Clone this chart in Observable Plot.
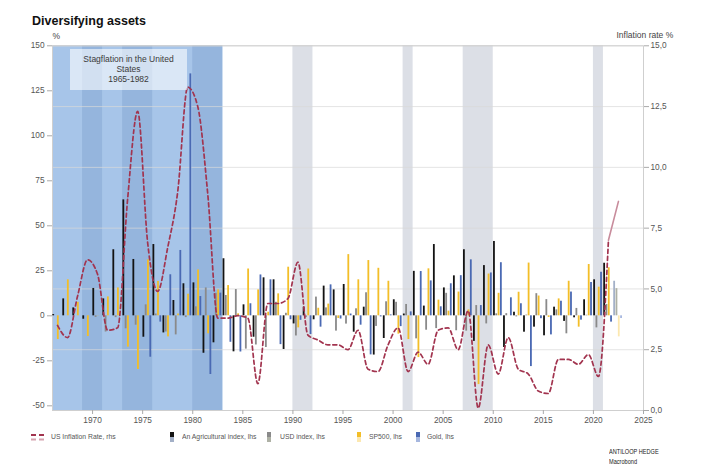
<!DOCTYPE html>
<html><head><meta charset="utf-8">
<script src="https://cdn.jsdelivr.net/npm/d3@7"></script>
<script src="https://cdn.jsdelivr.net/npm/@observablehq/plot@0.6"></script>
<style>
body{margin:0;background:#fff;font-family:"Liberation Sans",Arial,sans-serif;}
#wrap{position:relative;width:715px;height:467px;overflow:hidden;}
#title{height:28px;position:relative;}
#title span{position:absolute;left:32px;top:15px;font-size:12.5px;font-weight:bold;line-height:12px;color:#111;}
#chart svg{display:block;}
#note{position:absolute;left:70px;top:49px;width:117px;height:41px;background:rgba(255,255,255,0.58);
 text-align:center;font-size:8.5px;line-height:10px;color:#3a3a3a;padding-top:5px;box-sizing:border-box;}
.lg{position:absolute;top:432px;font-size:8px;line-height:10px;color:#555;white-space:nowrap;transform:scaleX(0.85);transform-origin:left center;}
.ic{position:absolute;top:432px;width:4px;height:10px;}
.ic i{display:block;width:4px;height:5px;}
.cap{position:absolute;left:609px;font-size:7px;line-height:9px;color:#222;white-space:nowrap;transform:scaleX(0.8);transform-origin:left center;}
</style></head>
<body>
<div id="wrap">
 <div id="title"><span>Diversifying assets</span></div>
 <div id="chart"></div>
 <div id="note">Stagflation in the United<br>States<br>1965-1982</div>
 <div id="legend"></div>
 <div class="cap" style="top:447px">ANTILOOP HEDGE</div>
 <div class="cap" style="top:457px">Macrobond</div>
</div>
<script>
// ---------- data ----------
const years = [1966,1967,1968,1969,1970,1971,1972,1973,1974,1975,1976,1977,1978,1979,1980,1981,1982,1983,1984,1985,1986,1987,1988,1989,1990,1991,1992,1993,1994,1995,1996,1997,1998,1999,2000,2001,2002,2003,2004,2005,2006,2007,2008,2009,2010,2011,2012,2013,2014,2015,2016,2017,2018,2019,2020,2021,2022];

// Agricultural index, % change (lhs)
const agri = [0.7,9.4,4.4,-1.9,15.2,9.4,36.7,64.4,31.3,-11.9,39.6,-9.5,8.5,17.8,18.3,-20.8,-15,31.7,-20,6.1,-11.9,21.1,20,-18.7,-4.5,4.8,-2.2,16.5,14.4,17.4,-9.1,4.8,-21.8,-12.6,8.9,1,24.7,5.4,39.6,15.5,22.2,36.7,-14.2,27.9,41.3,-17.6,2,-9.1,-6.3,-11.1,4.8,-3.1,-1.1,8.9,20,29.2,19.2];
// USD index, % change (lhs)
const usd = [null,null,null,null,-0.9,-9,-1,-7.2,-5.2,6.1,1,-9,-10.6,-1,5,15.5,12.5,11.3,14.6,-18.5,-16.2,-17.6,7.5,1.4,-11.2,-1,10.4,4.4,-8.5,-4.6,3.9,12.8,-5.9,7.8,7.5,6.3,-12.8,-8,-7.1,12.5,-8.3,-8.5,5.7,-4.5,1.1,1.2,-0.6,0.4,12.3,9,3.3,-10,4.1,0.3,-6.7,6.3,15.1];
// SP500, % change (lhs)
const sp500 = [-13.2,20,7.5,-11.5,0.1,10.5,15.5,-17.4,-29.8,31.1,19.1,-11.7,1,12,25.5,-10,14.4,16.8,1.1,26,14.4,2,12.2,27,-6.7,26,4.2,6.5,-1.5,34,20,30.7,26.4,19.2,-10.2,-13.2,-23.2,26.1,8.7,2.6,13.2,3.3,-38.2,23.2,12.5,0,13.1,29.3,11,-0.9,9.4,19.2,-6.3,28.5,15.9,26.7,-11.7];
// Gold, % change (lhs)
const gold = [null,null,null,null,null,null,null,null,null,-23,-3.5,22.8,36.3,134.4,10.7,-32.6,12.6,-14.7,-20.1,6.7,22.7,20,-16,-2.2,-2.5,-10.4,-6.3,17.2,-1.8,1,-5.2,-21.7,-0.6,0.5,-6,2.2,24.6,19.4,5,17.8,22.3,31.1,5.7,23.8,29.5,10,6.7,-28.2,-1.6,-10.6,8.1,13.2,-2.4,18.5,24.2,-3.5,-1.5];
// US inflation rate, % (rhs)
const inflation = [3.5,3.0,4.7,6.2,5.6,3.3,3.4,8.7,12.3,6.9,4.9,6.7,9.0,13.3,12.5,8.9,3.8,3.8,3.9,3.8,1.1,4.4,4.4,4.6,6.1,3.1,2.9,2.7,2.7,2.5,3.3,1.7,1.6,2.7,3.4,1.6,2.4,1.9,3.3,3.4,2.5,4.1,0.1,2.7,1.5,3.0,1.7,1.5,0.8,0.7,2.1,2.1,1.9,2.3,1.4,7.0,8.6];
const lastActualYear = 2021;

// shaded periods
const stagflation = [{start:1966, end:1983}];
const recessionsEarly = [{start:1969,end:1971},{start:1973,end:1976},{start:1980,end:1983}];
const recessionsLate = [{start:1990,end:1992},{start:2001,end:2002},{start:2007,end:2010},{start:2020,end:2021}];

// tick labels
const xTicks = [1970,1975,1980,1985,1990,1995,2000,2005,2010,2015,2020,2025];
const leftTicks = [-50,-25,0,25,50,75,100,125,150];
const rightTicks = [0,2.5,5,7.5,10,12.5,15];

// ---------- build ----------
const lo = -52.6, hi = 150;           // left-axis domain
const rMax = 15;                      // right-axis max
const toLeft = v => lo + v * (hi - lo) / rMax;
const toRight = u => (u - lo) * rMax / (hi - lo);

const series = [
  {name:"An Agricultural index, lhs", values:agri,  dark:"#131313", light:"#a3b0c7"},
  {name:"USD index, lhs",             values:usd,   dark:"#8a8a8a", light:"#aeb1a5"},
  {name:"SP500, lhs",                 values:sp500, dark:"#f3be28", light:"#fce8b0"},
  {name:"Gold, lhs",                  values:gold,  dark:"#4a69b3", light:"#a6b7df"}
];
const offsets = [0.12, 0.35, 0.58, 0.81], bw = 0.18;
const bars = [];
series.forEach((s, i) => years.forEach((yr, j) => {
  const v = s.values[j];
  if (v == null) return;
  bars.push({year: yr, i, value: v, fill: yr > lastActualYear ? s.light : s.dark});
}));
const infl = years.map((yr, j) => ({year: yr, v: inflation[j]}));

const fontFam = '"Liberation Sans", Arial, sans-serif';
const chart = Plot.plot({
  width: 715, height: 400,
  marginLeft: 52, marginRight: 72, marginTop: 17.3, marginBottom: 18,
  x: {domain: [1966, 2025]},
  y: {domain: [lo, hi]},
  color: {type: "identity"},
  style: {fontFamily: fontFam, fontSize: "8.3px", color: "#555", background: "transparent"},
  marks: [
    Plot.rect(stagflation, {x1: "start", x2: "end", fill: "#a7c5e9"}),
    Plot.rect(recessionsEarly, {x1: "start", x2: "end", fill: "#95b5dd"}),
    Plot.rect(recessionsLate, {x1: "start", x2: "end", fill: "#dcdfe6"}),
    Plot.ruleY(rightTicks.map(toLeft), {stroke: "#d9d9d9", strokeOpacity: 0.7}),
    Plot.frame({stroke: "#cfcfcf"}),
    Plot.rect(bars, {
      x1: d => d.year + offsets[d.i] - bw / 2,
      x2: d => d.year + offsets[d.i] + bw / 2,
      y1: 0, y2: "value", fill: "fill"
    }),
    Plot.line(infl.filter(d => d.year <= lastActualYear), {
      x: d => d.year + 0.5, y: d => toLeft(d.v), curve: "monotone-x",
      stroke: "#a2344f", strokeWidth: 1.7, strokeDasharray: "4,3"
    }),
    Plot.line(infl.filter(d => d.year >= lastActualYear), {
      x: d => d.year + 0.5, y: d => toLeft(d.v),
      stroke: "#c88c9c", strokeWidth: 1.6
    }),
    Plot.axisX({ticks: xTicks, tickSize: 4, tickPadding: 3, tickFormat: d => String(d), label: null, stroke: "#aaa"}),
    Plot.axisY({anchor: "left", ticks: leftTicks, tickSize: 5, tickPadding: 3, tickFormat: d => String(d), label: null, stroke: "#aaa"}),
    Plot.axisY({anchor: "right", ticks: rightTicks.map(toLeft), tickSize: 5, tickPadding: 2,
      tickFormat: u => toRight(u).toFixed(1).replace(".", ","), label: null, stroke: "#aaa"}),
    Plot.text(["%"], {text: d => d, frameAnchor: "top-left", lineAnchor: "bottom", dy: -7, fontSize: 8.5, fill: "#444"}),
    Plot.text(["Inflation rate %"], {text: d => d, frameAnchor: "top-right", textAnchor: "start", lineAnchor: "bottom", dx: -27, dy: -8, fontSize: 8.5, fill: "#444"})
  ]
});
document.getElementById("chart").appendChild(chart);

// ---------- legend ----------
const lg = document.getElementById("legend");
function add(html){ lg.insertAdjacentHTML("beforeend", html); }
add(`<svg style="position:absolute;left:31px;top:432px" width="13" height="10">
  <line x1="0" x2="13" y1="3" y2="3" stroke="#a2344f" stroke-width="2" stroke-dasharray="5,3"/>
  <line x1="0" x2="13" y1="7.5" y2="7.5" stroke="#d6a3b0" stroke-width="2" stroke-dasharray="5,3"/></svg>`);
add(`<div class="lg" style="left:51px">US Inflation Rate, rhs</div>`);
const lgPos = [[170,182],[267,280],[357,369],[416,427]];
series.forEach((s, i) => {
  add(`<div class="ic" style="left:${lgPos[i][0]}px"><i style="background:${s.dark}"></i><i style="background:${s.light}"></i></div>`);
  add(`<div class="lg" style="left:${lgPos[i][1]}px">${s.name}</div>`);
});
</script>
</body></html>
